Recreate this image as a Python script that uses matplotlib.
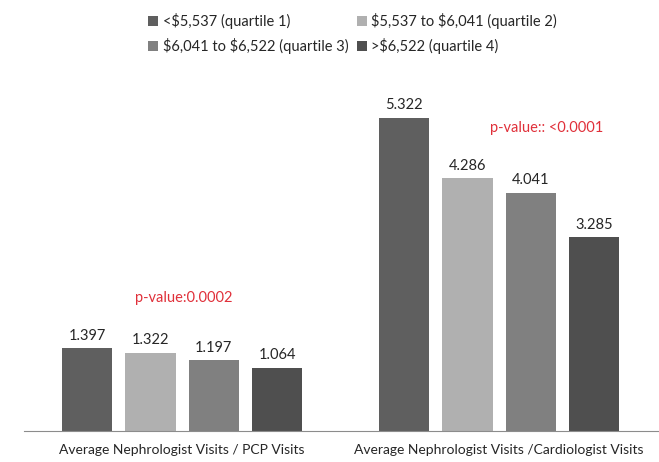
import matplotlib
matplotlib.use("Agg")
import matplotlib.pyplot as plt
import numpy as np

plt.rcParams['font.family'] = ['Lato', 'DejaVu Sans']
plt.rcParams['text.parse_math'] = False

categories = ["Average Nephrologist Visits / PCP Visits",
              "Average Nephrologist Visits /Cardiologist Visits"]
series_names = ["<$5,537 (quartile 1)", "$5,537 to $6,041 (quartile 2)",
                "$6,041 to $6,522 (quartile 3)", ">$6,522 (quartile 4)"]
values = [[1.397, 5.322],
          [1.322, 4.286],
          [1.197, 4.041],
          [1.064, 3.285]]
value_labels = [["1.397", "5.322"],
                ["1.322", "4.286"],
                ["1.197", "4.041"],
                ["1.064", "3.285"]]
pvalue_texts = ["p-value:0.0002", "p-value:: <0.0001"]
colors = ["#5f5f5f", "#b0b0b0", "#808080", "#4f4f4f"]

fig = plt.figure(figsize=(6.59, 4.62), dpi=100)
ax = fig.add_axes([0.036, 0.068, 0.962, 0.764])

x = np.arange(len(categories))
step = 0.2
width = 0.158
handles = []
for i, name in enumerate(series_names):
    pos = x + (i - 1.5) * step
    bars = ax.bar(pos, values[i], width, color=colors[i], label=name)
    handles.append(bars)
    for b, lab in zip(bars, value_labels[i]):
        ax.annotate(lab, (b.get_x() + b.get_width() / 2, b.get_height()),
                    xytext=(0, 4), textcoords="offset points",
                    ha="center", va="bottom", fontsize=10.5, color="#262626")

ax.text(0.005, 2.25, pvalue_texts[0], color="#e0303a", fontsize=10.5,
        ha="center", va="center")
ax.text(1.15, 5.14, pvalue_texts[1], color="#e0303a", fontsize=10.5,
        ha="center", va="center")

ax.set_xlim(-0.5, 1.5)
ax.set_ylim(0, 6)
ax.set_xticks(x)
ax.set_xticklabels(categories, fontsize=10, color="#262626")
ax.tick_params(axis="x", length=0, pad=10)
ax.set_yticks([])
for s in ["top", "right", "left"]:
    ax.spines[s].set_visible(False)
ax.spines["bottom"].set_color("#8c8c8c")

# legend fills column-first, so reorder to read row-wise
order = [0, 2, 1, 3]
fig.legend([handles[k] for k in order], [series_names[k] for k in order],
           loc="upper center", bbox_to_anchor=(0.535, 1.0), ncol=2,
           frameon=False, fontsize=10.5, handlelength=0.7, handleheight=0.7,
           handletextpad=0.3, columnspacing=0.6, labelspacing=0.6,
           labelcolor="#262626")

fig.savefig("out.png", dpi=100)
